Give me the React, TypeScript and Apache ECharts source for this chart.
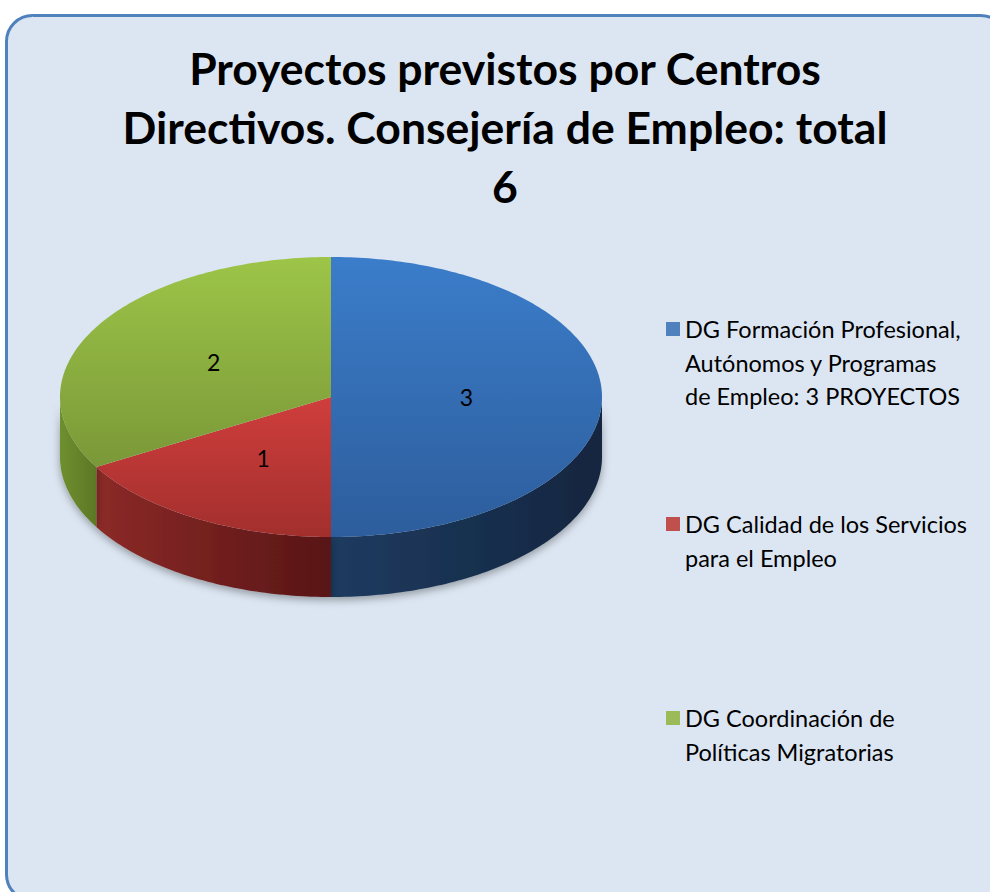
import React, { useEffect, useRef } from "react";
import * as echarts from "echarts";

// ---- data ----
const titleLines = [
  "Proyectos previstos por Centros",
  "Directivos. Consejería de Empleo: total",
  "6",
];
const categories = [
  "DG Formación Profesional,\nAutónomos y Programas\nde Empleo: 3 PROYECTOS",
  "DG Calidad de los Servicios\npara el Empleo",
  "DG Coordinación de\nPolíticas Migratorias",
];
const values = [3, 1, 2];

// ---- styles ----
const legendColors = ["#4f81bd", "#c0504d", "#9bbb59"];
const topColors = [
  ["#3b7dca", "#2d5d9c"],
  ["#cf3e3c", "#a22f2d"],
  ["#9dc548", "#7a9838"],
];
const sideColors = [
  ["#1e3b60", "#13263f"],
  ["#8c2a27", "#581515"],
  ["#6f8f2f", "#5c7826"],
];

// ---- layout ----
const CX = 331;
const CY = 397;
const RX = 271;
const RY = 140;
const DEPTH = 60;
const LEGEND_LEFT = 666;
const LEGEND_FIRST_LINE_Y = [329, 524, 718];
const LEGEND_LINE_H = 33.5;
const FONT = "Lato, 'Open Sans', sans-serif";

function pt(deg: number, dy = 0, f = 1): number[] {
  const r = (deg * Math.PI) / 180;
  return [CX + f * RX * Math.sin(r), CY - f * RY * Math.cos(r) + dy];
}

export default function App() {
  const ref = useRef<HTMLDivElement>(null);
  useEffect(() => {
    if (!ref.current) return;
    const chart = echarts.init(ref.current, null, { renderer: "svg" });
    const total = values.reduce((a, b) => a + b, 0);

    const renderItem = (params: any) => {
      const i = params.dataIndex;
      let start = 0;
      for (let k = 0; k < i; k++) start += values[k];
      const a0 = (start / total) * 360;
      const a1 = ((start + values[i]) / total) * 360;
      const children: any[] = [];

      const s0 = Math.max(a0, 90);
      const s1 = Math.min(a1, 270);
      if (s1 > s0) {
        const upper: number[][] = [];
        const lower: number[][] = [];
        for (let d = s0; d < s1; d += 1) {
          upper.push(pt(d));
          lower.push(pt(d, DEPTH));
        }
        upper.push(pt(s1));
        lower.push(pt(s1, DEPTH));
        const pts = upper.concat(lower.reverse());
        children.push({
          type: "polygon",
          shape: { points: pts },
          style: {
            fill: new echarts.graphic.LinearGradient(0, 0, 1, 0, [
              { offset: 0, color: sideColors[i][0] },
              { offset: 1, color: sideColors[i][1] },
            ]),
            shadowColor: "rgba(0,0,0,0.35)",
            shadowBlur: 8,
            shadowOffsetY: 3,
          },
        });
      }

      const top: number[][] = [[CX, CY]];
      for (let d = a0; d < a1; d += 1) top.push(pt(d));
      top.push(pt(a1));
      children.push({
        type: "polygon",
        shape: { points: top },
        style: {
          fill: new echarts.graphic.LinearGradient(0, 0, 0, 1, [
            { offset: 0, color: topColors[i][0] },
            { offset: 1, color: topColors[i][1] },
          ]),
        },
      });

      const lp = pt((a0 + a1) / 2, 0, 0.5);
      children.push({
        type: "text",
        style: {
          text: String(values[i]),
          x: lp[0],
          y: lp[1],
          align: "center",
          verticalAlign: "middle",
          textAlign: "center",
          textVerticalAlign: "middle",
          fontSize: 23,
          fontFamily: FONT,
          fill: "#000",
        },
      });
      return { type: "group", children };
    };

    const legends = categories.map((name, i) => {
      const n = name.split("\n").length;
      return {
        data: [name],
        orient: "vertical",
        left: LEGEND_LEFT,
        top: LEGEND_FIRST_LINE_Y[i] - (n - 0.5) * LEGEND_LINE_H,
        padding: 0,
        itemWidth: 14,
        itemHeight: 14,
        itemGap: 0,
        icon: "rect",
        selectedMode: false,
        formatter: (nm: string) => "\n".repeat(n - 1) + nm,
        textStyle: {
          fontFamily: FONT,
          fontSize: 23.5,
          lineHeight: LEGEND_LINE_H,
          color: "#000",
        },
      };
    });

    chart.setOption({
      animation: false,
      graphic: [
        {
          type: "rect",
          z: -10,
          shape: { x: 6.5, y: 15.5, width: 1000, height: 885, r: 26 },
          style: { fill: "#dce6f2", stroke: "#4f81bd", lineWidth: 3 },
          silent: true,
        },
      ],
      title: {
        text: titleLines.join("\n"),
        left: 505,
        top: 38,
        textAlign: "center",
        padding: 0,
        textStyle: {
          fontFamily: FONT,
          fontWeight: "bold",
          fontSize: 44.5,
          lineHeight: 59,
          color: "#000",
        },
      },
      legend: legends,
      series: [
        {
          type: "pie",
          name: "legend",
          radius: [0, 0],
          center: [-50, -50],
          silent: true,
          label: { show: false },
          labelLine: { show: false },
          data: values.map((v, i) => ({
            value: v,
            name: categories[i],
            itemStyle: { color: legendColors[i] },
          })),
        },
        {
          type: "custom",
          name: "pie3d",
          coordinateSystem: "none",
          silent: true,
          renderItem,
          data: values.map((v, i) => ({ value: v, name: categories[i] })),
        },
      ],
    });
    return () => chart.dispose();
  }, []);
  return (
    <div
      ref={ref}
      style={{ position: "absolute", left: 0, top: 0, width: 990, height: 892, background: "#fff" }}
    />
  );
}
